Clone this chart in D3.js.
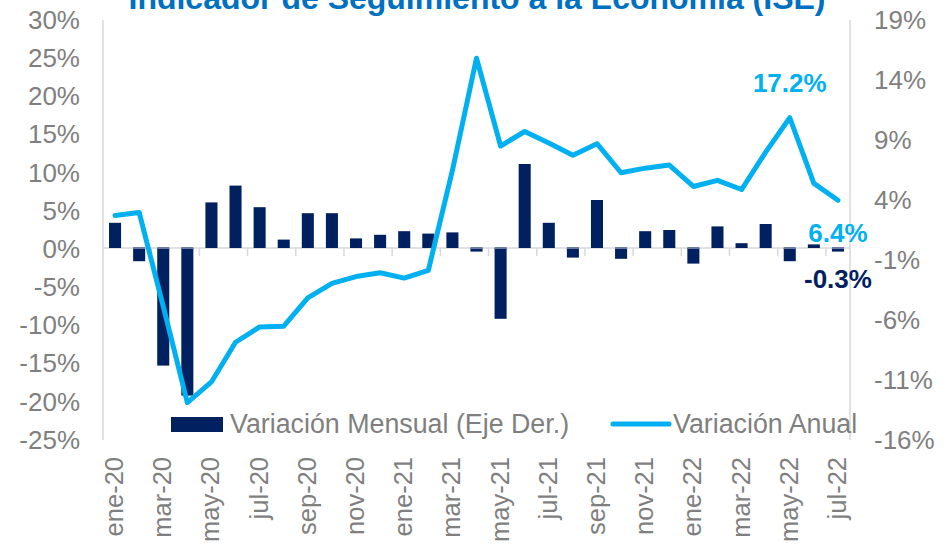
<!DOCTYPE html>
<html>
<head>
<meta charset="utf-8">
<script src="https://cdn.jsdelivr.net/npm/d3@7"></script>
<style>
  html, body { margin: 0; padding: 0; background: #ffffff; }
  svg { display: block; }
  text { font-family: "Liberation Sans", Arial, sans-serif; }
</style>
</head>
<body>
<svg id="chart" width="949" height="545"></svg>
<script>
// ---- data ----
const months = ["ene-20","feb-20","mar-20","abr-20","may-20","jun-20","jul-20","ago-20","sep-20","oct-20","nov-20","dic-20",
                "ene-21","feb-21","mar-21","abr-21","may-21","jun-21","jul-21","ago-21","sep-21","oct-21","nov-21","dic-21",
                "ene-22","feb-22","mar-22","abr-22","may-22","jun-22","jul-22"];
// Variación Mensual (right axis, bars)
const mensual = [2.1,-1.1,-9.8,-12.3,3.8,5.2,3.4,0.7,2.9,2.9,0.8,1.1,
                 1.4,1.2,1.3,-0.3,-5.9,7.0,2.1,-0.8,4.0,-0.9,1.4,1.5,
                 -1.3,1.8,0.4,2.0,-1.1,0.3,-0.3];
// Variación Anual (left axis, line)
const anual = [4.4,4.8,-7.5,-20.1,-17.4,-12.2,-10.2,-10.1,-6.4,-4.5,-3.6,-3.1,
               -3.8,-2.8,10.3,25.0,13.5,15.4,13.9,12.3,13.8,10.0,10.6,11.0,
               8.2,9.0,7.8,12.7,17.2,8.6,6.4];
const leftTicks = [30,25,20,15,10,5,0,-5,-10,-15,-20,-25];
const rightTicks = [19,14,9,4,-1,-6,-11,-16];
const title = "Indicador de Seguimiento a la Economía (ISE)";
const legendLabels = ["Variación Mensual (Eje Der.)", "Variación Anual"];

// ---- styles ----
const NAVY = "#002060", CYAN = "#00B0F0", GRAY = "#7f7f7f", AXIS = "#d9d9d9";

const svg = d3.select("#chart");
const L = 103, R = 850, T = 20, B = 440;

const x = d3.scaleBand().domain(months).range([L, R]).paddingInner(0.5).paddingOuter(0.25);
const yL = d3.scaleLinear().domain([-25, 30]).range([B, T]);
const yR = d3.scaleLinear().domain([-16, 19]).range([B, T]);
const step = x.step();

// title
svg.append("text").attr("x", 477).attr("y", 9).attr("text-anchor", "middle")
  .attr("font-size", 32).attr("font-weight", "bold").attr("fill", "#0070C0").text(title);

// axis lines
svg.append("line").attr("x1", L).attr("x2", L).attr("y1", T).attr("y2", B).attr("stroke", AXIS).attr("stroke-width", 1.5);
svg.append("line").attr("x1", R).attr("x2", R).attr("y1", T).attr("y2", B).attr("stroke", AXIS).attr("stroke-width", 1.5);

// left axis labels
const gL = svg.append("g").attr("transform", `translate(${L},0)`)
  .call(d3.axisLeft(yL).tickValues(leftTicks).tickSize(0).tickPadding(23).tickFormat(d => d + "%"));
gL.select(".domain").remove();
gL.selectAll("text").attr("font-size", 26).attr("fill", GRAY).attr("font-family", "Liberation Sans, Arial, sans-serif");

// right axis labels
const gR = svg.append("g").attr("transform", `translate(${R},0)`)
  .call(d3.axisRight(yR).tickValues(rightTicks).tickSize(0).tickPadding(24).tickFormat(d => d + "%"));
gR.select(".domain").remove();
gR.selectAll("text").attr("font-size", 26).attr("fill", GRAY).attr("font-family", "Liberation Sans, Arial, sans-serif");

// zero line
const y0 = yR(0);
svg.append("line").attr("x1", L).attr("x2", R).attr("y1", y0).attr("y2", y0).attr("stroke", AXIS).attr("stroke-width", 1.5);

// tick marks every 2 categories at band boundaries
const tickIdx = d3.range(2, months.length, 2);
svg.selectAll(".tk").data(tickIdx).enter().append("line")
  .attr("x1", i => x(months[i]) - step * 0.25).attr("x2", i => x(months[i]) - step * 0.25)
  .attr("y1", y0).attr("y2", y0 + 8).attr("stroke", AXIS).attr("stroke-width", 1.5);

// x labels (every 2 months)
const labIdx = d3.range(0, months.length, 2);
svg.selectAll(".xl").data(labIdx).enter().append("text")
  .attr("transform", i => `translate(${x(months[i]) + x.bandwidth() / 2 + 8},457) rotate(-90)`)
  .attr("text-anchor", "end").attr("font-size", 25.5).attr("fill", GRAY)
  .text(i => months[i]);

// bars
svg.selectAll(".bar").data(months).enter().append("rect")
  .attr("x", d => x(d)).attr("width", x.bandwidth())
  .attr("y", (d, i) => yR(Math.max(0, mensual[i])))
  .attr("height", (d, i) => Math.abs(yR(mensual[i]) - yR(0)))
  .attr("fill", NAVY);
// light caps for negative bars
svg.selectAll(".cap").data(months.filter((d, i) => mensual[i] < 0)).enter().append("rect")
  .attr("x", d => x(d)).attr("width", x.bandwidth())
  .attr("y", y0 - 1).attr("height", 2).attr("fill", "#6b7ba6");

// line
const line = d3.line().x((d, i) => x(months[i]) + x.bandwidth() / 2).y(d => yL(d));
svg.append("path").datum(anual).attr("d", line).attr("fill", "none")
  .attr("stroke", CYAN).attr("stroke-width", 5).attr("stroke-linejoin", "round").attr("stroke-linecap", "round");

// data labels
const cx = i => x(months[i]) + x.bandwidth() / 2;
svg.append("text").attr("x", cx(28)).attr("y", 92).attr("text-anchor", "middle")
  .attr("font-size", 26).attr("font-weight", "bold").attr("fill", CYAN).text(anual[28].toFixed(1) + "%");
svg.append("text").attr("x", cx(30)).attr("y", 242).attr("text-anchor", "middle")
  .attr("font-size", 26).attr("font-weight", "bold").attr("fill", CYAN).text(anual[30].toFixed(1) + "%");
svg.append("text").attr("x", cx(30)).attr("y", 288).attr("text-anchor", "middle")
  .attr("font-size", 26).attr("font-weight", "bold").attr("fill", NAVY).text(mensual[30].toFixed(1) + "%");

// legend
svg.append("rect").attr("x", 171).attr("y", 417).attr("width", 52).attr("height", 15).attr("fill", NAVY);
svg.append("text").attr("x", 230).attr("y", 433).attr("font-size", 26.8).attr("fill", GRAY).text(legendLabels[0]);
svg.append("line").attr("x1", 613).attr("x2", 669).attr("y1", 424).attr("y2", 424)
  .attr("stroke", CYAN).attr("stroke-width", 5).attr("stroke-linecap", "round");
svg.append("text").attr("x", 673).attr("y", 433).attr("font-size", 26.8).attr("fill", GRAY).text(legendLabels[1]);
</script>
</body>
</html>
